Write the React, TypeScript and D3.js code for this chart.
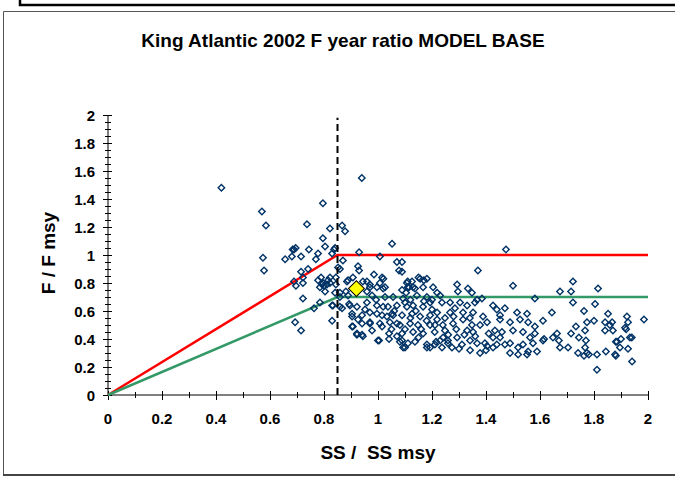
import React, { useEffect, useRef } from "react";
import * as d3 from "d3";

// [SS/SSmsy, F/Fmsy] per year-run
const leftOfBpa: [number, number][] = [
  [0.42, 1.48], [0.57, 1.31], [0.585, 1.21], [0.737, 1.22], [0.796, 1.37], [0.822, 1.19], [0.796, 1.12],
  [0.804, 1.06], [0.837, 1.04], [0.744, 1.04], [0.689, 1.04], [0.695, 1.05], [0.684, 1.04], [0.656, 0.97],
  [0.681, 0.99], [0.715, 0.99], [0.778, 1.01], [0.77, 0.97], [0.83, 1.01], [0.574, 0.98], [0.578, 0.89],
  [0.715, 0.88], [0.741, 0.9], [0.722, 0.84], [0.689, 0.81], [0.696, 0.78], [0.722, 0.8], [0.778, 0.82],
  [0.789, 0.84], [0.796, 0.8], [0.811, 0.79], [0.785, 0.77], [0.822, 0.84], [0.804, 0.74], [0.822, 0.8],
  [0.844, 0.84], [0.722, 0.69], [0.763, 0.62], [0.785, 0.66], [0.83, 0.64], [0.693, 0.52], [0.715, 0.46],
  [0.83, 0.53], [0.8, 0.78], [0.815, 0.82], [0.793, 0.79], [0.844, 0.79], [0.841, 0.73], [0.841, 1.05],
  [0.833, 0.64],
];

const middle: [number, number][] = [
  [0.94, 1.55], [0.867, 1.21], [0.878, 1.17], [0.87, 0.96], [0.93, 1.02], [1.052, 1.08], [1.007, 0.99],
  [1.07, 0.95], [1.078, 0.89], [0.852, 0.91], [0.926, 0.92], [0.93, 0.89], [0.985, 0.86], [1.015, 0.84],
  [1.02, 0.83], [0.889, 0.82], [0.907, 0.84], [0.959, 0.81], [0.97, 0.77], [0.996, 0.77], [1.019, 0.76],
  [0.881, 0.74], [0.859, 0.63], [0.893, 0.65], [0.904, 0.58], [0.907, 0.49], [0.922, 0.44], [0.941, 0.43],
  [0.926, 0.54], [0.952, 0.61], [0.97, 0.51], [0.993, 0.68], [0.996, 0.58], [0.978, 0.46], [1.004, 0.39],
  [1.015, 0.49], [1.019, 0.63], [1.033, 0.56], [1.041, 0.44], [1.056, 0.57], [1.07, 0.51], [1.081, 0.38],
  [1.093, 0.34], [1.1, 0.66], [1.104, 0.73], [1.11, 0.77], [0.859, 0.7], [0.859, 0.9], [0.885, 0.81],
  [0.944, 0.81], [0.97, 0.79], [1.007, 0.8], [1.026, 0.77], [1.089, 0.75], [1.107, 0.8], [1.126, 0.81],
  [1.156, 0.83], [1.181, 0.83], [1.115, 0.77], [1.137, 0.76], [1.167, 0.77], [1.204, 0.77], [0.859, 0.73],
  [0.889, 0.71], [0.959, 0.74], [0.978, 0.71], [1.026, 0.7], [1.056, 0.7], [1.093, 0.69], [1.144, 0.71],
  [1.181, 0.7], [1.219, 0.73], [0.896, 0.64], [0.922, 0.63], [0.959, 0.66], [0.996, 0.64], [1.037, 0.63],
  [1.07, 0.64], [1.107, 0.63], [1.13, 0.64], [1.167, 0.63], [1.193, 0.66], [0.867, 0.62], [0.904, 0.56],
  [0.941, 0.57], [0.97, 0.59], [1.015, 0.57], [1.052, 0.58], [1.089, 0.57], [1.126, 0.58], [1.156, 0.56],
  [1.193, 0.57], [1.219, 0.59], [0.904, 0.49], [0.941, 0.51], [0.97, 0.52], [1.007, 0.51], [1.044, 0.52],
  [1.081, 0.5], [1.119, 0.51], [1.148, 0.5], [1.193, 0.5], [0.922, 0.43], [0.944, 0.42], [1.0, 0.39],
  [1.041, 0.4], [1.089, 0.39], [1.111, 0.37], [1.1, 0.34], [1.137, 0.38], [1.181, 0.36], [1.193, 0.34],
  [1.215, 0.38], [1.089, 0.44], [1.13, 0.45], [1.167, 0.44], [1.089, 0.95], [1.089, 0.88], [1.15, 0.84],
  [1.17, 0.82], [1.11, 0.81], [1.13, 0.77], [1.2, 0.68], [1.2, 0.61], [1.211, 0.5], [1.23, 0.39],
  [1.181, 0.34], [1.1, 0.47], [1.16, 0.47], [1.21, 0.45], [1.05, 0.47], [1.12, 0.55], [1.18, 0.53],
  [1.15, 0.41], [1.07, 0.42], [1.14, 0.6], [1.06, 0.6], [1.17, 0.67], [1.12, 0.68],
];

const rightSide: [number, number][] = [
  [1.474, 1.04], [1.37, 0.89], [1.5, 0.78], [1.581, 0.69], [1.293, 0.79], [1.296, 0.74], [1.333, 0.76],
  [1.348, 0.73], [1.23, 0.71], [1.237, 0.66], [1.267, 0.66], [1.304, 0.66], [1.33, 0.64], [1.367, 0.68],
  [1.385, 0.69], [1.359, 0.66], [1.285, 0.62], [1.315, 0.59], [1.352, 0.59], [1.389, 0.56], [1.426, 0.64],
  [1.44, 0.61], [1.47, 0.62], [1.515, 0.59], [1.552, 0.58], [1.452, 0.57], [1.404, 0.52], [1.452, 0.54],
  [1.489, 0.52], [1.526, 0.54], [1.556, 0.52], [1.581, 0.49], [1.219, 0.54], [1.248, 0.55], [1.278, 0.51],
  [1.315, 0.54], [1.348, 0.5], [1.378, 0.5], [1.33, 0.46], [1.352, 0.45], [1.433, 0.46], [1.459, 0.45],
  [1.5, 0.46], [1.537, 0.45], [1.563, 0.41], [1.241, 0.41], [1.259, 0.39], [1.293, 0.41], [1.311, 0.36],
  [1.341, 0.39], [1.367, 0.37], [1.396, 0.37], [1.426, 0.41], [1.452, 0.41], [1.47, 0.36], [1.489, 0.37],
  [1.519, 0.34], [1.537, 0.36], [1.574, 0.37], [1.211, 0.36], [1.237, 0.34], [1.274, 0.34], [1.378, 0.3],
  [1.426, 0.34], [1.519, 0.29], [1.556, 0.31], [1.341, 0.32], [1.404, 0.35], [1.489, 0.3], [1.552, 0.29],
  [1.259, 0.37], [1.3, 0.33], [1.4, 0.32], [1.44, 0.36], [1.248, 0.46], [1.267, 0.59], [1.24, 0.5],
  [1.26, 0.43], [1.29, 0.47], [1.32, 0.43], [1.36, 0.42], [1.28, 0.56], [1.34, 0.55], [1.41, 0.44],
];

const farRight: [number, number][] = [
  [1.722, 0.81], [1.715, 0.74], [1.674, 0.74], [1.815, 0.76], [1.722, 0.66], [1.804, 0.65], [1.644, 0.59],
  [1.763, 0.6], [1.852, 0.58], [1.922, 0.56], [1.985, 0.54], [1.611, 0.53], [1.774, 0.52], [1.8, 0.53],
  [1.926, 0.52], [1.859, 0.5], [1.733, 0.49], [1.767, 0.46], [1.841, 0.46], [1.87, 0.46], [1.919, 0.47],
  [1.581, 0.44], [1.663, 0.44], [1.715, 0.44], [1.648, 0.41], [1.67, 0.39], [1.744, 0.41], [1.77, 0.39],
  [1.933, 0.41], [1.94, 0.41], [1.611, 0.39], [1.615, 0.4], [1.881, 0.38], [1.9, 0.4], [1.674, 0.34],
  [1.704, 0.34], [1.589, 0.31], [1.767, 0.34], [1.774, 0.3], [1.741, 0.3], [1.763, 0.28], [1.781, 0.29],
  [1.844, 0.31], [1.896, 0.34], [1.926, 0.33], [1.881, 0.28], [1.811, 0.29], [1.941, 0.24], [1.811, 0.18],
  [1.841, 0.52], [1.867, 0.52], [1.915, 0.48], [1.885, 0.38], [1.878, 0.29],
];

// reference lines
const fLimit: [number, number][] = [[0, 0], [0.85, 1], [2, 1]];
const fTarget: [number, number][] = [[0, 0], [0.85, 0.7], [2, 0.7]];
const bpa = 0.85;
const current: [number, number] = [0.92, 0.76];

const xTicks = [0, 0.2, 0.4, 0.6, 0.8, 1, 1.2, 1.4, 1.6, 1.8, 2];
const yTicks = [0, 0.2, 0.4, 0.6, 0.8, 1, 1.2, 1.4, 1.6, 1.8, 2];

const FONT = "'Liberation Sans', Arial, sans-serif";

const App = () => {
  const ref = useRef<SVGSVGElement>(null);

  useEffect(() => {
    const svg = d3.select(ref.current);
    svg.selectAll("*").remove();

    const x = d3.scaleLinear().domain([0, 2]).range([108, 648]);
    const y = d3.scaleLinear().domain([0, 2]).range([395, 115]);

    // frames
    svg.append("path").attr("d", "M20,0 V5 H675").attr("fill", "none").attr("stroke", "#000").attr("stroke-width", 2.5);
    svg.append("path").attr("d", "M675,11.5 H3.5 V474.5 H675").attr("fill", "none").attr("stroke", "#555").attr("stroke-width", 1);
    svg.append("line").attr("x1", 3).attr("x2", 675).attr("y1", 475).attr("y2", 475).attr("stroke", "#444").attr("stroke-width", 2);

    svg.append("text").attr("x", 343).attr("y", 47).attr("text-anchor", "middle")
      .attr("font-family", FONT).attr("font-weight", "bold").attr("font-size", 19)
      .text("King Atlantic 2002 F year ratio MODEL BASE");

    // axes
    const g = svg.append("g").attr("stroke", "#000").attr("stroke-width", 1);
    g.append("line").attr("x1", x(0)).attr("x2", x(0)).attr("y1", y(0)).attr("y2", y(2));
    g.append("line").attr("x1", x(0)).attr("x2", x(2)).attr("y1", y(0)).attr("y2", y(0));
    d3.range(0, 41).forEach((i) => {
      const v = i * 0.05;
      const major = i % 4 === 0;
      g.append("line").attr("x1", x(0) - (major ? 5 : 3)).attr("x2", x(0) + (major ? 4 : 3))
        .attr("y1", Math.round(y(v)) + 0.5).attr("y2", Math.round(y(v)) + 0.5);
    });
    d3.range(0, 21).forEach((i) => {
      const v = i * 0.1;
      const major = i % 2 === 0;
      g.append("line").attr("x1", Math.round(x(v)) + 0.5).attr("x2", Math.round(x(v)) + 0.5)
        .attr("y1", y(0) - (major ? 4 : 3)).attr("y2", y(0) + (major ? 5 : 3));
    });

    const labels = svg.append("g").attr("font-family", FONT).attr("font-weight", "bold").attr("font-size", 15);
    labels.selectAll("text.y").data(yTicks).join("text").attr("class", "y")
      .attr("x", 95).attr("y", (d) => y(d) + 5.5).attr("text-anchor", "end").text((d) => d3.format("")(d));
    labels.selectAll("text.x").data(xTicks).join("text").attr("class", "x")
      .attr("x", (d) => x(d)).attr("y", 424).attr("text-anchor", "middle").text((d) => d3.format("")(d));

    svg.append("text").attr("x", 378).attr("y", 459).attr("text-anchor", "middle")
      .attr("font-family", FONT).attr("font-weight", "bold").attr("font-size", 19)
      .attr("xml:space", "preserve").text("SS /  SS msy");
    svg.append("text").attr("transform", "translate(55,253) rotate(-90)").attr("text-anchor", "middle")
      .attr("font-family", FONT).attr("font-weight", "bold").attr("font-size", 19)
      .attr("xml:space", "preserve").text("F / F msy");

    // reference lines
    const line = d3.line<[number, number]>().x((d) => x(d[0])).y((d) => y(d[1]));
    svg.append("path").attr("d", line(fLimit)).attr("fill", "none").attr("stroke", "#ff0000").attr("stroke-width", 2.5);
    svg.append("path").attr("d", line(fTarget)).attr("fill", "none").attr("stroke", "#339966").attr("stroke-width", 2.5);

    // scatter
    const all = [...leftOfBpa, ...middle, ...rightSide, ...farRight];
    const diamond = d3.symbol().type(d3.symbolSquare).size(21);
    svg.append("g").selectAll("path").data(all).join("path")
      .attr("d", diamond)
      .attr("transform", (d) => `translate(${x(d[0])},${y(d[1])}) rotate(45)`)
      .attr("fill", "none").attr("stroke", "#003366").attr("stroke-width", 1.4);

    svg.append("line").attr("x1", x(bpa)).attr("x2", x(bpa)).attr("y1", y(0)).attr("y2", y(1.98))
      .attr("stroke", "#000").attr("stroke-width", 2).attr("stroke-dasharray", "7,4");

    svg.append("path").attr("d", d3.symbol().type(d3.symbolSquare).size(125)())
      .attr("transform", `translate(${x(current[0])},${y(current[1])}) rotate(45)`)
      .attr("fill", "#ffff00").attr("stroke", "#000").attr("stroke-width", 1);
  }, []);

  return (
    <svg ref={ref} width={675} height={477}
      style={{ position: "absolute", left: 0, top: 0, background: "#fff" }} />
  );
};

export default App;
